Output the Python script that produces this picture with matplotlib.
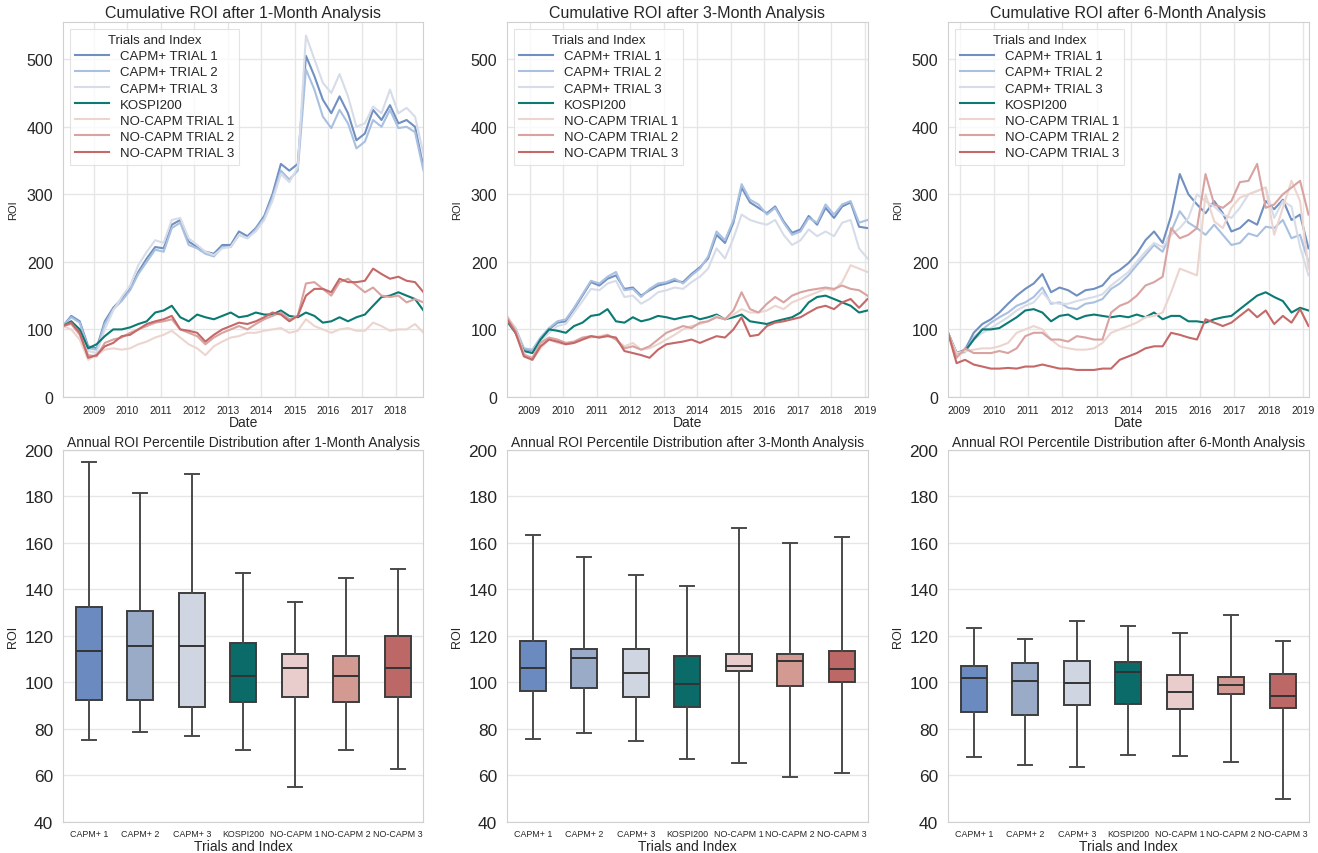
import pandas as pd
import matplotlib
matplotlib.use("Agg")
import matplotlib.pyplot as plt
import matplotlib.dates as mdates
from matplotlib.lines import Line2D

plt.rcParams['font.family'] = ['Liberation Sans', 'DejaVu Sans']

# Series names and colours
series_names = ['CAPM+ TRIAL 1', 'CAPM+ TRIAL 2', 'CAPM+ TRIAL 3', 'KOSPI200',
                'NO-CAPM TRIAL 1', 'NO-CAPM TRIAL 2', 'NO-CAPM TRIAL 3']
line_colors = ['#7090c2', '#a9c0e0', '#d6dce8', '#0b7a73', '#ecd5cf', '#d8a3a1', '#c56868']
box_labels = ['CAPM+ 1', 'CAPM+ 2', 'CAPM+ 3', 'KOSPI200', 'NO-CAPM 1', 'NO-CAPM 2', 'NO-CAPM 3']
box_colors = ['#6b8abf', '#9aabc8', '#cfd6e1', '#0a6b69', '#e8cdcc', '#d39a94', '#bc6866']
periods = ['1-Month', '3-Month', '6-Month']

# Quarterly samples of cumulative ROI
dates_m1 = pd.date_range('2008-02-01', periods=44, freq='3MS')
dates_m3 = pd.date_range('2008-05-01', periods=44, freq='3MS')
dates_m6 = pd.date_range('2008-09-01', periods=43, freq='3MS')

cap1_m1 = [105, 120, 112, 75, 72, 112, 132, 145, 160, 185, 205, 222, 220, 255, 262, 230,
           222, 215, 212, 225, 225, 245, 238, 250, 268, 300, 345, 335, 345, 505, 475, 440,
           420, 445, 420, 380, 390, 425, 410, 432, 405, 410, 400, 340]
cap2_m1 = [105, 118, 110, 72, 70, 108, 130, 142, 158, 182, 200, 218, 215, 250, 258, 225,
           220, 212, 208, 222, 222, 240, 235, 248, 265, 295, 335, 322, 335, 485, 455, 415,
           398, 425, 405, 368, 378, 410, 400, 425, 398, 400, 392, 335]
cap3_m1 = [103, 112, 100, 68, 65, 100, 128, 148, 165, 195, 215, 232, 228, 262, 265, 235,
           225, 215, 210, 220, 222, 240, 235, 245, 262, 290, 330, 318, 340, 535, 500, 465,
           450, 478, 445, 400, 405, 430, 420, 455, 420, 428, 415, 360]
kospi_m1 = [105, 112, 100, 72, 78, 90, 100, 100, 103, 108, 112, 125, 128, 135, 118, 112,
            122, 118, 115, 120, 125, 118, 120, 125, 122, 122, 128, 120, 118, 125, 120, 110,
            112, 118, 112, 118, 122, 135, 148, 150, 155, 150, 145, 128]
no1_m1 = [105, 100, 85, 55, 62, 70, 72, 70, 72, 78, 82, 88, 92, 98, 88, 78,
          72, 62, 75, 82, 88, 90, 95, 95, 98, 100, 102, 95, 98, 115, 105, 100,
          95, 100, 102, 98, 98, 110, 105, 98, 100, 100, 108, 95]
no2_m1 = [105, 108, 92, 62, 60, 80, 85, 88, 95, 100, 105, 110, 112, 115, 100, 95,
          90, 78, 88, 95, 100, 105, 100, 108, 115, 120, 125, 115, 120, 168, 170, 160,
          150, 170, 175, 165, 155, 162, 150, 148, 150, 140, 145, 140]
no3_m1 = [105, 110, 95, 58, 62, 75, 80, 90, 92, 100, 108, 112, 115, 120, 100, 98,
          95, 82, 92, 100, 105, 110, 108, 112, 118, 125, 122, 112, 120, 150, 160, 160,
          155, 175, 170, 170, 172, 190, 182, 175, 178, 172, 170, 155]

cap1_m3 = [115, 100, 70, 68, 85, 100, 110, 112, 130, 150, 170, 165, 175, 180, 160, 162,
           150, 158, 165, 168, 172, 170, 182, 192, 205, 240, 228, 258, 310, 288, 280, 272,
           282, 260, 243, 248, 268, 255, 280, 265, 282, 288, 252, 250]
cap2_m3 = [118, 102, 72, 70, 88, 102, 112, 115, 132, 152, 172, 168, 178, 185, 158, 160,
           148, 160, 168, 170, 175, 168, 180, 190, 208, 245, 232, 262, 315, 292, 285, 270,
           280, 258, 240, 245, 265, 258, 285, 270, 285, 290, 258, 262]
cap3_m3 = [120, 98, 68, 66, 82, 95, 105, 108, 125, 142, 160, 158, 168, 172, 148, 150,
           138, 145, 155, 158, 162, 160, 170, 178, 190, 220, 205, 235, 270, 262, 258, 255,
           262, 240, 225, 232, 248, 238, 245, 238, 258, 262, 220, 205]
kospi_m3 = [112, 95, 68, 65, 85, 100, 98, 95, 105, 110, 120, 122, 130, 112, 110, 118,
            112, 115, 120, 118, 115, 118, 120, 115, 118, 122, 115, 118, 122, 112, 110, 108,
            112, 115, 118, 125, 140, 148, 150, 145, 140, 135, 125, 128]
no1_m3 = [120, 100, 65, 55, 72, 85, 80, 78, 80, 85, 88, 90, 92, 85, 75, 80,
          70, 72, 78, 85, 92, 100, 105, 108, 112, 120, 115, 122, 130, 125, 125, 128,
          135, 130, 140, 145, 150, 155, 160, 158, 170, 195, 190, 185]
no2_m3 = [118, 98, 62, 58, 80, 88, 85, 80, 82, 88, 90, 88, 92, 85, 72, 75,
          70, 75, 85, 95, 100, 105, 102, 110, 112, 118, 115, 128, 155, 130, 125, 138,
          148, 140, 150, 155, 158, 160, 162, 160, 165, 160, 158, 150]
no3_m3 = [115, 95, 60, 55, 75, 85, 82, 78, 80, 85, 90, 88, 90, 88, 68, 65,
          62, 58, 70, 78, 80, 82, 85, 80, 85, 90, 88, 100, 118, 90, 92, 105,
          110, 112, 115, 118, 125, 132, 135, 130, 140, 145, 132, 145]

cap1_m6 = [95, 65, 70, 95, 108, 115, 125, 138, 150, 160, 168, 182, 155, 162, 158, 150,
           158, 160, 165, 180, 188, 198, 212, 232, 245, 228, 268, 330, 300, 285, 272, 290,
           272, 245, 250, 262, 255, 290, 278, 292, 262, 270, 220]
cap2_m6 = [93, 63, 68, 88, 100, 110, 118, 125, 135, 140, 148, 162, 138, 140, 132, 130,
           138, 140, 145, 160, 168, 180, 195, 210, 225, 215, 245, 275, 258, 250, 240, 255,
           240, 225, 228, 242, 238, 252, 250, 262, 235, 240, 200]
cap3_m6 = [92, 62, 66, 85, 95, 102, 110, 118, 128, 135, 140, 155, 140, 138, 138, 142,
           145, 148, 152, 165, 175, 185, 200, 215, 228, 222, 240, 250, 265, 300, 290, 282,
           270, 265, 280, 300, 305, 310, 265, 290, 282, 222, 180]
kospi_m6 = [95, 65, 68, 85, 100, 100, 102, 110, 118, 128, 130, 125, 112, 120, 122, 115,
            120, 122, 120, 118, 120, 118, 122, 118, 125, 115, 120, 120, 112, 112, 110, 115,
            118, 120, 130, 140, 150, 155, 148, 142, 125, 132, 128]
no1_m6 = [95, 65, 68, 70, 72, 72, 75, 80, 95, 100, 105, 100, 85, 75, 72, 70,
          70, 72, 80, 95, 100, 105, 110, 118, 120, 125, 155, 190, 185, 180, 300, 260,
          250, 280, 295, 300, 305, 310, 240, 280, 320, 290, 190]
no2_m6 = [95, 58, 72, 65, 65, 65, 68, 65, 72, 90, 95, 95, 85, 85, 82, 90,
          88, 85, 85, 125, 135, 140, 150, 165, 170, 178, 250, 235, 240, 250, 330, 285,
          280, 290, 318, 320, 345, 280, 285, 300, 310, 320, 270]
no3_m6 = [95, 50, 55, 48, 45, 42, 42, 43, 42, 45, 45, 48, 45, 42, 42, 40,
          40, 40, 42, 42, 55, 60, 65, 72, 75, 75, 95, 92, 88, 85, 115, 110,
          105, 110, 120, 130, 118, 128, 108, 120, 110, 130, 105]

# Annual ROI percentiles: whisker low, Q1, median, Q3, whisker high
whislo_m1 = [75.2, 78.8, 77.0, 70.8, 55.2, 71.0, 62.7]
q1_m1 = [92.5, 92.5, 89.6, 91.6, 93.9, 91.6, 93.6]
med_m1 = [113.7, 115.5, 115.5, 102.8, 106.4, 102.8, 106.1]
q3_m1 = [132.3, 130.6, 138.5, 116.9, 112.2, 111.4, 120.2]
whishi_m1 = [195.0, 181.7, 189.8, 147.1, 134.7, 144.8, 148.7]

whislo_m3 = [75.8, 78.1, 74.8, 67.3, 65.4, 59.5, 61.0]
q1_m3 = [96.3, 97.8, 93.9, 89.4, 105.1, 98.4, 100.2]
med_m3 = [106.4, 110.7, 104.3, 99.4, 107.3, 109.1, 105.8]
q3_m3 = [117.9, 114.3, 114.3, 111.2, 112.2, 112.2, 113.6]
whishi_m3 = [163.3, 153.9, 146.4, 141.6, 166.4, 159.9, 162.6]

whislo_m6 = [67.9, 64.6, 63.6, 68.7, 68.3, 65.9, 49.9]
q1_m6 = [87.4, 86.0, 90.3, 90.7, 88.6, 95.0, 89.0]
med_m6 = [101.8, 100.5, 99.8, 104.4, 95.9, 98.9, 94.2]
q3_m6 = [107.3, 108.6, 109.3, 108.9, 103.4, 102.5, 103.8]
whishi_m6 = [123.4, 118.5, 126.4, 124.5, 121.2, 129.1, 117.9]

line_data = [
    (dates_m1, [cap1_m1, cap2_m1, cap3_m1, kospi_m1, no1_m1, no2_m1, no3_m1]),
    (dates_m3, [cap1_m3, cap2_m3, cap3_m3, kospi_m3, no1_m3, no2_m3, no3_m3]),
    (dates_m6, [cap1_m6, cap2_m6, cap3_m6, kospi_m6, no1_m6, no2_m6, no3_m6]),
]
box_data = [
    (whislo_m1, q1_m1, med_m1, q3_m1, whishi_m1),
    (whislo_m3, q1_m3, med_m3, q3_m3, whishi_m3),
    (whislo_m6, q1_m6, med_m6, q3_m6, whishi_m6),
]

grid_color = '#e6e6e6'
edge_color = '#d0d0d0'
text_color = '#262626'

fig = plt.figure(figsize=(13.18, 8.54), dpi=100)
lefts = [0.0478, 0.3847, 0.7193]
width = 0.2735

for col in range(3):
    # Cumulative ROI lines
    ax = fig.add_axes([lefts[col], 0.534, width, 0.439])
    dates, series = line_data[col]
    for values, name, color in zip(series, series_names, line_colors):
        ax.plot(dates, values, color=color, linewidth=1.5, label=name)
    ax.set_xlim(dates[0], dates[-1])
    ax.set_ylim(0, 555)
    ax.set_yticks([0, 100, 200, 300, 400, 500])
    ax.xaxis.set_major_locator(mdates.YearLocator())
    ax.xaxis.set_major_formatter(mdates.DateFormatter('%Y'))
    ax.grid(True, color=grid_color, linewidth=1)
    ax.set_axisbelow(True)
    ax.tick_params(axis='y', labelsize=11.5, length=0, pad=7, labelcolor=text_color)
    ax.tick_params(axis='x', labelsize=7.5, length=0, pad=6, labelcolor=text_color)
    for sp in ax.spines.values():
        sp.set_color(edge_color)
    ax.set_title(f'Cumulative ROI after {periods[col]} Analysis', fontsize=11.5,
                 color=text_color, pad=4)
    ax.set_xlabel('Date', fontsize=10, color=text_color, labelpad=0)
    ax.set_ylabel('ROI', fontsize=8, color=text_color, labelpad=6)
    handles = [Line2D([], [], color=c, linewidth=1.5) for c in line_colors]
    leg = ax.legend(handles, series_names, title='Trials and Index', loc='upper left',
                    fontsize=9.5, title_fontsize=9.5, labelspacing=0.3, handlelength=2.6,
                    borderaxespad=0.5, frameon=True, fancybox=False)
    leg.get_frame().set_edgecolor('#dddddd')
    leg.get_frame().set_linewidth(0.8)
    for t in leg.get_texts():
        t.set_color(text_color)
    leg.get_title().set_color(text_color)

    # Annual ROI percentile boxes
    bx = fig.add_axes([lefts[col], 0.0363, width, 0.4356])
    lo, q1, med, q3, hi = box_data[col]
    stats = [{'whislo': lo[i], 'q1': q1[i], 'med': med[i], 'q3': q3[i], 'whishi': hi[i],
              'label': box_labels[i]} for i in range(len(box_labels))]
    parts = bx.bxp(stats, positions=range(7), widths=0.5, capwidths=0.27,
                   patch_artist=True, showfliers=False,
                   boxprops=dict(edgecolor='#3d3d3d', linewidth=1.4),
                   whiskerprops=dict(color='#4a4a4a', linewidth=1.4),
                   capprops=dict(color='#4a4a4a', linewidth=1.4),
                   medianprops=dict(color='#333333', linewidth=1.4))
    for patch, color in zip(parts['boxes'], box_colors):
        patch.set_facecolor(color)
    bx.set_xlim(-0.5, 6.5)
    bx.set_ylim(40, 200)
    bx.set_yticks([40, 60, 80, 100, 120, 140, 160, 180, 200])
    bx.grid(True, axis='y', color=grid_color, linewidth=1)
    bx.grid(False, axis='x')
    bx.set_axisbelow(True)
    bx.tick_params(axis='y', labelsize=12.5, length=0, pad=7, labelcolor=text_color)
    bx.tick_params(axis='x', labelsize=6.4, length=0, pad=5, labelcolor=text_color)
    for sp in bx.spines.values():
        sp.set_color(edge_color)
    bx.set_title(f'Annual ROI Percentile Distribution after {periods[col]} Analysis',
                 fontsize=10, color=text_color, pad=3)
    bx.set_xlabel('Trials and Index', fontsize=10, color=text_color, labelpad=1)
    bx.set_ylabel('ROI', fontsize=9, color=text_color, labelpad=4)

fig.savefig('out.png', dpi=100)
